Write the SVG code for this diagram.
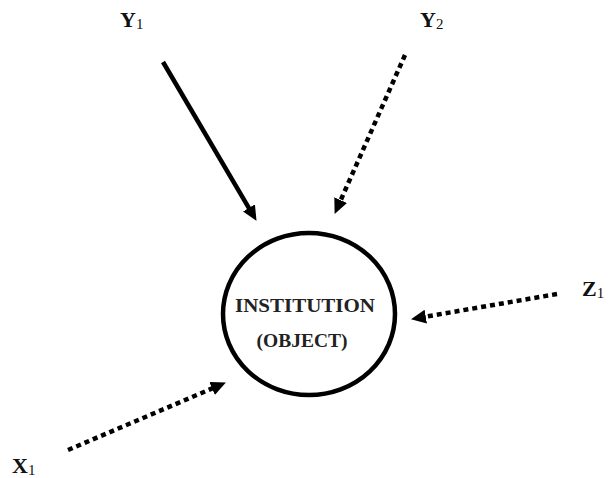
<svg xmlns="http://www.w3.org/2000/svg" width="610" height="478" viewBox="0 0 610 478">
<style>
.lbl{font-family:"Liberation Serif","Times New Roman",serif;font-weight:bold;font-size:22px;fill:#111}
.sub{font-size:15px;font-weight:normal}
.in{font-family:"Liberation Serif","Times New Roman",serif;font-weight:bold;font-size:19px;fill:#222}
.ln{stroke:#000;stroke-width:4.5;fill:none}
.dot{stroke-dasharray:5 4}
</style>
<defs>
<marker id="ah" markerUnits="userSpaceOnUse" markerWidth="16" markerHeight="14" refX="1" refY="7" orient="auto" viewBox="0 0 16 14">
<path d="M0,0 L15,7 L0,14 z" fill="#000"/>
</marker>
</defs>
<g id="connectors">
<line class="ln" x1="163" y1="62" x2="249.4" y2="208.8" marker-end="url(#ah)"/>
<line class="ln dot" x1="405" y1="55" x2="340.3" y2="201.1" marker-end="url(#ah)"/>
<line class="ln dot" x1="68" y1="450" x2="213" y2="388.1" marker-end="url(#ah)"/>
<line class="ln dot" x1="557" y1="294" x2="424.8" y2="316.8" marker-end="url(#ah)"/>
</g>
<g id="institution">
<ellipse cx="309" cy="314" rx="86" ry="81" fill="#fff" stroke="#000" stroke-width="4.5"/>
<text class="in" x="305" y="312" text-anchor="middle" textLength="140" lengthAdjust="spacingAndGlyphs">INSTITUTION</text>
<text class="in" x="302" y="347" text-anchor="middle" textLength="91" lengthAdjust="spacingAndGlyphs">(OBJECT)</text>
</g>
<g id="y1"><text class="lbl" x="120" y="27">Y<tspan class="sub" dy="2">1</tspan></text></g>
<g id="y2"><text class="lbl" x="420" y="27">Y<tspan class="sub" dy="2">2</tspan></text></g>
<g id="z1"><text class="lbl" x="582" y="296">Z<tspan class="sub" dy="2">1</tspan></text></g>
<g id="x1"><text class="lbl" x="12" y="473">X<tspan class="sub" dy="2">1</tspan></text></g>
</svg>
